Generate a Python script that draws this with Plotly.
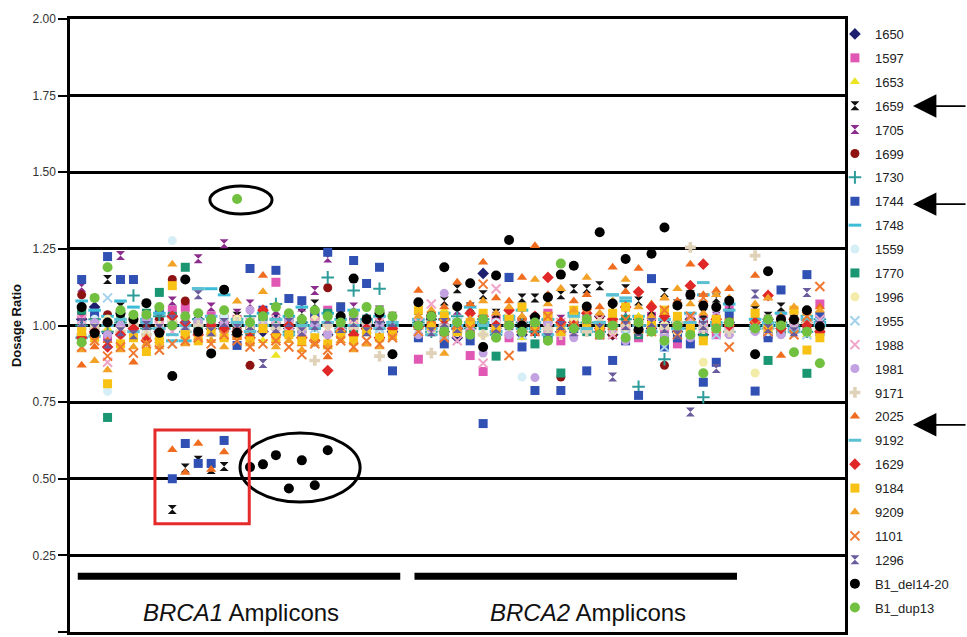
import plotly.graph_objects as go

# ---------------- data ----------------
N_BRCA1 = 25
N_BRCA2 = 25
N_CTRL = 6

Y_TICKS = [0.0, 0.25, 0.5, 0.75, 1.0, 1.25, 1.5, 1.75, 2.0]

S1650 = [1.02, 1.06, 0.975, 1.00, 0.99, 1.01, 0.98, 1.03, 1.00, 1.02, 0.99, 1.01, 0.97, 1.00, 0.98,
         1.02, 0.99, 1.01, 1.00, 0.97, 1.02, 1.00, 0.99, 1.01, 0.98,
         1.00, 1.02, 0.98, 0.96, 1.01, 1.17, 0.99, 1.03, 0.97, 1.00, 1.02, 0.98, 1.01, 0.99, 1.03,
         0.97, 1.00, 1.02, 0.99, 1.01, 0.98, 1.02, 0.97, 1.00, 1.01,
         0.99, 1.02, 1.00, 0.98, 1.01, 1.00]
S1597 = [1.035, 1.00, 0.96, 1.04, 1.02, 0.97, 1.01, 1.05, 1.06, 0.99, 1.03, 1.00, 1.02, 0.98, 1.04,
         1.141, 1.01, 0.99, 1.03, 1.05, 0.98, 1.02, 1.00, 0.97, 1.01,
         0.89, 1.03, 0.97, 1.00, 0.902, 0.85, 1.02, 0.96, 1.01, 0.98, 1.04, 0.95, 1.00, 1.02, 0.97,
         1.01, 0.99, 0.96, 1.03, 0.98, 0.94, 1.00, 1.02, 0.97, 1.06,
         1.00, 0.97, 1.03, 0.99, 1.02, 1.07]
S1653 = [0.98, 1.01, 0.99, 1.00, 1.03, 0.98, 0.96, 1.02, 0.99, 1.01, 0.97, 1.00, 1.03, 0.99, 0.95,
         0.902, 1.00, 0.98, 1.01, 0.97, 1.00, 1.02, 0.98, 1.00, 0.99,
         1.02, 0.98, 1.05, 1.00, 0.97, 1.01, 0.99, 1.03, 0.96, 1.00, 1.02, 0.98, 1.04, 1.00, 0.97,
         1.01, 0.99, 1.03, 0.98, 1.00, 1.02, 0.97, 1.01, 0.99, 1.00,
         1.01, 0.98, 1.00, 1.03, 0.97, 1.00]
S1659 = [1.05, 1.03, 1.15, 1.06, 1.02, 1.00, 1.04, 0.40, 0.535, 0.56, 0.53, 0.54, 1.03, 1.00, 1.02,
         1.05, 0.99, 1.04, 1.07, 1.01, 1.06, 1.03, 1.00, 1.05, 1.02,
         1.05, 1.03, 1.08, 1.12, 1.06, 1.10, 1.04, 1.157, 1.09, 1.09, 1.08, 1.10, 1.12, 1.12, 1.13,
         1.06, 1.12, 1.08, 1.05, 1.108, 1.07, 1.10, 1.04, 1.09, 1.06,
         1.05, 1.03, 1.06, 1.02, 1.04, 1.03]
S1705 = [1.125, 1.04, 0.94, 1.228, 1.00, 1.02, 1.05, 1.08, 1.03, 1.218, 1.06, 1.267, 1.04, 1.07, 1.00,
         1.05, 1.03, 1.06, 1.114, 1.22, 1.04, 1.06, 1.02, 1.05, 1.03,
         1.03, 1.00, 1.02, 1.05, 0.98, 1.01, 1.03, 0.99, 1.04, 1.00, 0.97, 1.02, 1.00, 1.03, 0.99,
         1.01, 1.04, 0.98, 1.02, 1.00, 0.96, 1.01, 0.99, 1.03, 1.00,
         1.04, 1.02, 0.99, 1.04, 1.03, 1.01]
S1699 = [1.10, 1.03, 1.035, 1.02, 1.00, 0.99, 1.02, 1.15, 1.08, 1.01, 1.00, 1.03, 0.99, 0.87, 1.02,
         1.01, 0.98, 1.00, 1.03, 1.123, 1.00, 1.02, 0.99, 1.01, 1.00,
         1.00, 0.98, 1.02, 0.99, 1.01, 1.03, 0.97, 1.00, 1.02, 0.98, 1.01, 0.832, 0.99, 1.00, 1.03,
         0.97, 1.01, 0.99, 1.02, 0.87, 0.98, 1.00, 1.01, 0.99, 1.02,
         1.00, 1.02, 0.98, 1.01, 0.99, 1.00]
S1730 = [1.00, 1.02, 0.98, 1.01, 1.098, 0.99, 1.03, 1.00, 0.98, 1.02, 1.00, 0.99, 1.01, 1.03, 1.00,
         1.07, 0.98, 1.01, 1.00, 1.157, 0.99, 1.114, 1.02, 1.12, 1.00,
         1.01, 0.98, 1.00, 1.03, 0.99, 1.02, 0.97, 1.00, 1.01, 0.98, 1.02, 1.00, 0.99, 1.01, 0.98,
         1.00, 1.02, 0.80, 1.00, 0.89, 1.01, 0.99, 0.766, 1.00, 0.98,
         1.00, 0.99, 1.01, 1.00, 0.98, 1.02]
S1744 = [1.15, 1.04, 1.225, 1.15, 1.15, 1.02, 1.05, 0.50, 0.615, 0.55, 0.55, 0.625, 0.935, 1.186, 1.05,
         1.18, 1.088, 1.081, 1.04, 1.239, 1.06, 1.212, 1.137, 1.19, 0.852,
         0.96, 1.00, 0.94, 0.98, 0.95, 0.68, 0.97, 1.157, 0.93, 0.788, 0.96, 0.788, 0.99, 0.852, 0.97,
         0.886, 0.95, 0.772, 1.153, 0.93, 0.96, 0.94, 0.815, 0.88, 1.04,
         0.786, 0.96, 1.116, 0.99, 1.166, 1.03]
S1748 = [1.08, 1.05, 1.03, 1.08, 1.06, 1.02, 1.04, 0.95, 0.95, 1.12, 1.12, 1.10, 1.02, 1.00, 1.04,
         1.02, 1.03, 1.06, 1.00, 1.04, 1.02, 1.05, 1.01, 1.03, 1.00,
         1.02, 0.99, 1.04, 1.00, 1.06, 1.01, 0.98, 1.03, 1.05, 0.99, 1.02, 1.00, 1.04, 0.98, 1.01,
         1.10, 1.08, 1.03, 1.00, 1.02, 0.99, 1.04, 1.10, 1.01, 1.07,
         1.02, 1.00, 1.04, 0.99, 1.03, 1.01]
S1559 = [1.06, 1.02, 0.785, 1.01, 1.03, 0.98, 1.00, 1.277, 1.02, 0.99, 1.01, 1.03, 0.98, 1.00, 1.02,
         0.99, 1.01, 0.97, 1.00, 1.02, 0.99, 1.01, 1.00, 0.98, 1.02,
         0.99, 1.01, 0.97, 1.00, 1.02, 0.98, 1.01, 0.99, 0.832, 1.00, 1.02, 0.98, 1.01, 0.99, 1.00,
         1.02, 0.97, 1.01, 0.99, 1.00, 1.02, 0.98, 1.00, 1.01, 0.99,
         1.00, 0.98, 1.01, 0.99, 1.02, 1.00]
S1770 = [1.05, 1.01, 0.70, 1.02, 1.00, 1.04, 1.108, 1.03, 1.19, 1.00, 1.02, 0.99, 1.01, 0.98, 1.03,
         1.00, 1.02, 0.99, 1.01, 1.04, 1.00, 0.99, 1.02, 1.00, 1.01,
         1.00, 1.02, 0.98, 1.01, 0.99, 1.00, 0.90, 1.02, 0.99, 0.94, 0.97, 0.845, 1.01, 0.98, 1.00,
         0.99, 1.02, 0.97, 1.00, 0.96, 1.01, 0.98, 0.97, 1.00, 0.99,
         1.00, 0.886, 0.98, 1.01, 0.844, 0.98]
S1996 = [0.99, 1.00, 1.02, 0.98, 1.01, 0.97, 1.00, 1.02, 0.99, 1.01, 1.00, 0.98, 1.02, 0.99, 1.00,
         0.97, 1.01, 0.99, 1.02, 1.00, 0.98, 1.01, 0.99, 1.00, 1.02,
         1.00, 0.98, 1.02, 0.99, 1.01, 0.97, 1.00, 1.03, 0.99, 1.01, 0.98, 1.00, 1.02, 0.99, 1.01,
         0.98, 1.00, 1.02, 0.99, 1.00, 0.98, 1.01, 0.88, 1.00, 0.99,
         0.845, 1.00, 0.99, 1.01, 0.98, 1.00]
S1955 = [1.00, 0.98, 1.09, 1.01, 0.99, 1.02, 0.97, 0.94, 1.00, 1.03, 0.98, 1.01, 0.99, 0.97, 1.02,
         1.00, 0.98, 1.01, 0.99, 1.02, 1.00, 0.98, 1.01, 0.99, 1.00,
         0.98, 1.00, 0.97, 1.01, 0.99, 1.02, 0.98, 1.00, 0.97, 1.01, 0.99, 1.00, 0.98, 1.02, 0.99,
         1.00, 0.97, 1.01, 0.99, 0.93, 1.00, 0.98, 1.01, 0.97, 1.00,
         0.99, 1.01, 0.98, 1.00, 0.97, 1.01]
S1988 = [1.02, 1.00, 0.88, 1.01, 0.99, 1.03, 1.00, 0.98, 1.01, 0.99, 1.02, 1.00, 0.97, 1.01, 0.99,
         1.02, 1.00, 0.98, 1.01, 0.99, 1.00, 1.02, 0.99, 1.01, 0.98,
         1.01, 1.07, 0.99, 0.95, 1.00, 0.877, 1.12, 0.98, 1.00, 1.02, 0.99, 1.01, 0.98, 1.00, 1.02,
         0.97, 1.00, 0.99, 1.01, 0.98, 1.00, 1.02, 0.99, 1.01, 0.98,
         1.00, 0.98, 1.01, 0.99, 1.00, 1.02]
S1981 = [0.99, 1.01, 0.97, 1.00, 0.98, 1.02, 0.99, 1.00, 0.97, 1.01, 0.99, 1.00, 0.98, 1.05, 1.00,
         0.99, 1.02, 0.98, 1.00, 0.97, 1.01, 1.03, 0.99, 1.00, 0.98,
         0.97, 0.99, 1.105, 1.00, 0.98, 0.91, 1.00, 0.97, 0.99, 0.83, 1.01, 0.98, 0.96, 1.00, 0.97,
         0.99, 0.95, 1.00, 0.98, 0.97, 1.00, 0.96, 0.99, 1.03, 0.97,
         0.98, 1.00, 0.97, 0.99, 1.01, 0.98]
S9171 = [0.97, 0.99, 1.01, 0.98, 1.00, 0.97, 0.99, 1.01, 0.98, 1.00, 0.97, 0.99, 1.01, 0.98, 1.00,
         0.99, 0.97, 0.99, 0.886, 1.00, 0.98, 0.99, 1.01, 0.90, 0.99,
         0.99, 0.91, 1.00, 0.98, 1.01, 0.97, 0.99, 1.00, 0.98, 1.01, 0.99, 0.97, 1.00, 0.98, 1.01,
         0.99, 1.00, 0.98, 1.00, 0.99, 1.01, 1.255, 0.99, 1.00, 0.98,
         1.228, 0.99, 1.00, 0.98, 1.01, 0.99]
S2025 = [0.87, 0.93, 0.95, 0.94, 0.88, 0.96, 0.95, 0.595, 0.52, 0.615, 0.53, 0.587, 0.96, 0.98, 1.163,
         0.95, 0.97, 0.94, 0.96, 0.897, 0.95, 0.97, 0.94, 0.96, 0.99,
         1.114, 1.04, 1.06, 1.141, 1.07, 1.206, 1.09, 1.08, 1.157, 1.26, 1.10, 1.12, 1.08, 1.10, 1.06,
         1.19, 1.11, 1.186, 1.07, 1.09, 1.08, 1.20, 1.10, 1.114, 1.12,
         1.163, 1.09, 0.902, 1.05, 1.02, 1.06]
S9192 = [0.96, 0.965, 1.00, 1.02, 0.98, 1.01, 0.99, 0.97, 1.00, 1.12, 1.03, 0.99, 1.01, 0.98, 1.00,
         1.02, 0.97, 1.00, 0.99, 1.01, 0.98, 1.00, 1.02, 0.99, 1.01,
         1.00, 0.97, 1.02, 0.99, 1.01, 1.00, 0.98, 1.02, 0.99, 1.01, 0.97, 1.00, 1.03, 0.99, 1.01,
         1.10, 1.09, 1.00, 0.98, 1.02, 0.99, 1.01, 1.14, 1.00, 1.05,
         0.99, 1.01, 1.00, 0.98, 1.02, 1.00]
S1629 = [0.96, 0.98, 0.93, 0.97, 0.99, 0.95, 0.98, 1.03, 1.01, 0.97, 1.00, 0.99, 0.98, 0.96, 1.05,
         0.97, 1.00, 0.96, 0.95, 0.853, 0.98, 0.97, 0.99, 0.96, 0.99,
         0.997, 0.997, 1.02, 0.99, 1.04, 1.03, 1.00, 1.05, 0.98, 1.03, 1.157, 1.01, 1.00, 1.04, 0.99,
         1.02, 1.06, 1.11, 1.06, 1.03, 1.00, 1.13, 1.20, 1.02, 1.00,
         1.01, 1.098, 0.99, 1.02, 1.00, 0.98]
S9184 = [0.98, 0.96, 0.81, 0.94, 0.96, 0.915, 0.95, 1.13, 0.97, 0.95, 0.98, 0.96, 0.97, 0.95, 0.99,
         0.96, 0.97, 0.95, 0.96, 0.94, 0.97, 0.95, 0.98, 0.96, 0.97,
         1.05, 1.00, 1.03, 0.98, 1.01, 1.04, 0.99, 1.02, 1.06, 1.00, 1.03, 0.98, 1.05, 1.01, 0.99,
         1.04, 1.06, 1.02, 1.00, 1.05, 1.03, 0.99, 0.95, 1.02, 1.01,
         1.04, 0.99, 1.01, 1.05, 0.92, 0.96]
S9209 = [0.92, 0.885, 0.855, 0.92, 0.93, 0.94, 0.93, 1.20, 0.94, 0.96, 0.95, 0.93, 1.079, 0.94, 1.11,
         0.93, 0.95, 0.92, 0.94, 0.93, 0.95, 0.92, 0.94, 0.93, 0.96,
         1.03, 1.05, 0.909, 1.06, 1.02, 1.08, 1.04, 1.06, 1.03, 1.15, 1.07, 1.12, 1.05, 1.157, 1.04,
         1.08, 1.15, 1.06, 1.03, 1.09, 1.12, 1.07, 1.04, 1.10, 1.09,
         1.07, 1.09, 1.03, 1.06, 1.04, 1.05]
S1101 = [0.93, 0.95, 0.90, 0.93, 0.91, 0.94, 0.92, 0.94, 0.95, 0.96, 0.94, 0.97, 0.95, 0.93, 0.94,
         0.95, 0.93, 0.905, 0.94, 0.92, 0.95, 0.93, 0.95, 0.94, 0.96,
         0.98, 1.02, 0.96, 1.00, 0.99, 1.135, 0.97, 0.902, 1.01, 0.98, 1.03, 0.99, 1.00, 1.04, 0.97,
         1.00, 1.02, 0.99, 0.98, 1.05, 0.97, 1.03, 1.09, 0.99, 0.93,
         1.00, 0.98, 1.01, 0.97, 1.03, 1.127]
S1296 = [1.01, 0.99, 0.94, 0.98, 0.97, 1.00, 0.99, 1.02, 1.00, 1.10, 0.98, 1.01, 0.99, 1.00, 0.876,
         0.99, 1.01, 0.98, 1.00, 1.02, 0.99, 1.01, 0.98, 1.00, 1.01,
         1.00, 0.98, 1.01, 0.99, 0.97, 1.02, 0.99, 1.00, 0.98, 1.01, 0.96, 1.00, 0.98, 1.02, 0.99,
         0.832, 1.00, 0.98, 1.01, 0.99, 0.97, 0.718, 1.00, 0.86, 1.01,
         1.103, 0.99, 1.01, 0.98, 1.108, 1.00]
S_DEL = [1.06, 0.975, 1.01, 1.04, 1.02, 1.073, 0.976, 0.835, 1.15, 0.98, 0.909, 1.117, 0.976, 0.538, 0.547,
         0.577, 0.468, 0.560, 0.479, 0.593, 1.03, 1.153, 1.02, 1.04, 0.906,
         1.076, 1.03, 1.19, 1.062, 1.138, 0.93, 1.163, 1.279, 1.00, 1.027, 1.092, 1.166, 1.195, 1.062, 1.304,
         1.072, 1.217, 0.987, 1.234, 1.32, 1.065, 1.10, 1.065, 1.06, 1.081,
         0.906, 1.177, 1.02, 1.019, 1.05, 0.997]
S_DUP = [0.945, 1.09, 1.19, 1.05, 1.035, 1.035, 1.06, 1.00, 1.03, 1.04, 1.02, 1.05, 1.413, 1.01, 1.03,
         1.06, 1.04, 1.02, 1.05, 1.03, 1.01, 1.04, 1.06, 1.05, 1.03,
         1.00, 1.03, 0.98, 1.01, 0.97, 1.02, 0.96, 1.00, 0.98, 1.01, 0.95, 1.202, 0.99, 1.02, 0.97,
         1.00, 0.96, 1.01, 0.98, 0.95, 1.00, 0.97, 0.844, 0.99, 1.01,
         0.99, 1.02, 1.00, 0.913, 0.98, 0.877]

SERIES = [
    ("1650", S1650), ("1597", S1597), ("1653", S1653), ("1659", S1659), ("1705", S1705),
    ("1699", S1699), ("1730", S1730), ("1744", S1744), ("1748", S1748), ("1559", S1559),
    ("1770", S1770), ("1996", S1996), ("1955", S1955), ("1988", S1988), ("1981", S1981),
    ("9171", S9171), ("2025", S2025), ("9192", S9192), ("1629", S1629), ("9184", S9184),
    ("9209", S9209), ("1101", S1101), ("1296", S1296), ("B1_del14-20", S_DEL), ("B1_dup13", S_DUP),
]

# ---------------- styles ----------------
STYLE = {
    "1650": ("diamond", "#1f1f70", 0),
    "1597": ("square", "#e058b4", 0),
    "1653": ("triangle-up", "#ece423", 0),
    "1659": ("hourglass", "#111111", 0),
    "1705": ("hourglass", "#8c2c8c", 0),
    "1699": ("circle", "#8e1212", 0),
    "1730": ("cross-thin-open", "#2f9c9c", 2),
    "1744": ("square", "#3050b4", 0),
    "1748": ("line-ew-open", "#3cbcd6", 3),
    "1559": ("circle", "#d6eef6", 0),
    "1770": ("square", "#1b9672", 0),
    "1996": ("circle", "#f3eca8", 0),
    "1955": ("x-thin-open", "#a4d2ec", 2),
    "1988": ("x-thin-open", "#f0a4c8", 2),
    "1981": ("circle", "#c2a2e0", 0),
    "9171": ("cross", "#dfd2b8", 0),
    "2025": ("triangle-up", "#f06c1e", 0),
    "9192": ("line-ew-open", "#5ac0d2", 3),
    "1629": ("diamond", "#e02828", 0),
    "9184": ("square", "#f8c214", 0),
    "9209": ("triangle-up", "#f2a226", 0),
    "1101": ("x-thin-open", "#f07830", 2),
    "1296": ("hourglass", "#6a5c9c", 0),
    "B1_del14-20": ("circle", "#000000", 0),
    "B1_dup13": ("circle", "#72c040", 0),
}

FONT = "Liberation Sans, Arial, sans-serif"

# x positions: one slot per amplicon, with an empty slot between groups
b1_x = list(range(N_BRCA1))
b2_x = [N_BRCA1 + 1 + i for i in range(N_BRCA2)]
ctrl_x = [N_BRCA1 + N_BRCA2 + 2 + i for i in range(N_CTRL)]
XPOS = b1_x + b2_x + ctrl_x

for name, vals in SERIES:
    assert len(vals) == len(XPOS), (name, len(vals))

fig = go.Figure()
for name, vals in SERIES:
    sym, col, lw = STYLE[name]
    size = 10 if name.startswith("B1_") else 9
    fig.add_trace(go.Scatter(
        x=XPOS, y=vals, mode="markers", name=name, legendgroup=name,
        marker=dict(symbol=sym, color=col, size=size,
                    line=dict(width=lw, color=col)),
        hoverinfo="skip",
    ))

shapes = []
# group bars under the amplicons
for xs in (b1_x, b2_x):
    shapes.append(dict(type="line", xref="x", yref="y", x0=xs[0] - 0.3, x1=xs[-1] + 0.6,
                       y0=0.182, y1=0.182, line=dict(color="black", width=7)))
# highlighting marks
shapes.append(dict(type="circle", xref="x", yref="y", x0=9.9, x1=14.7, y0=1.364, y1=1.455,
                   line=dict(color="black", width=3)))
shapes.append(dict(type="circle", xref="x", yref="y", x0=12.23, x1=21.5, y0=0.424, y1=0.649,
                   line=dict(color="black", width=3)))
shapes.append(dict(type="rect", xref="x", yref="y", x0=5.66, x1=12.94, y0=0.353, y1=0.659,
                   line=dict(color="#e42a2a", width=3)))

annotations = [
    dict(text="<i>BRCA1</i> Amplicons", x=(b1_x[0] + b1_x[-1]) / 2 + 0.3, y=0.065, xref="x", yref="y",
         showarrow=False, font=dict(size=24, color="#111", family=FONT)),
    dict(text="<i>BRCA2</i> Amplicons", x=(b2_x[0] + b2_x[-1]) / 2 + 1.1, y=0.065, xref="x", yref="y",
         showarrow=False, font=dict(size=24, color="#111", family=FONT)),
]
for yp in (0.858, 0.698, 0.338):
    annotations.append(dict(x=1.0877, y=yp, xref="paper", yref="paper", text="", showarrow=True,
                            ax=58, ay=0, arrowhead=2, arrowsize=2.6, arrowwidth=1.8,
                            arrowcolor="black"))

fig.update_layout(
    width=967, height=637,
    margin=dict(l=70, r=122, t=19, b=5),
    paper_bgcolor="white", plot_bgcolor="white",
    font=dict(family=FONT, color="#222"),
    showlegend=True,
    legend=dict(x=0.987, xanchor="left", y=1.0, yanchor="top", tracegroupgap=4.0,
                font=dict(size=13, color="#222", family=FONT), bgcolor="rgba(0,0,0,0)",
                itemwidth=30),
    xaxis=dict(range=[-0.9, 58.94], showticklabels=False, ticks="", showgrid=False, zeroline=False,
               showline=True, linecolor="black", linewidth=2.5, mirror=True),
    yaxis=dict(range=[0, 2], tickvals=Y_TICKS, ticktext=[f"{v:.2f}" for v in Y_TICKS],
               ticks="outside", ticklen=9, tickwidth=2, tickcolor="black",
               tickfont=dict(size=12, color="#333", family=FONT),
               showgrid=True, gridcolor="black", gridwidth=2.5, zeroline=False,
               showline=True, linecolor="black", linewidth=2.5, mirror=True,
               title=dict(text="<b>Dosage Ratio</b>", font=dict(size=13, color="#111", family=FONT),
                          standoff=8)),
    shapes=shapes,
    annotations=annotations,
    hovermode=False,
)

fig.write_html("out.html", config={"displayModeBar": False},
               post_script="document.body.style.margin='0';")
